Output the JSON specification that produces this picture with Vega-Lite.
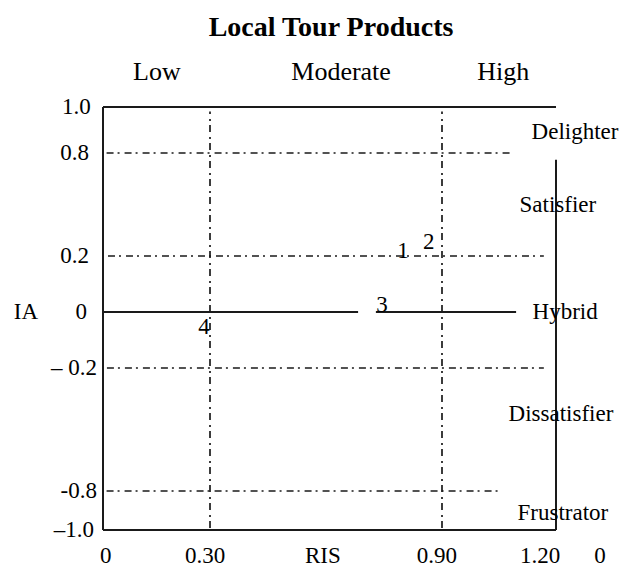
{
  "$schema": "https://vega.github.io/schema/vega-lite/v6.json",
  "width": 619,
  "height": 571,
  "padding": 0,
  "autosize": {"type": "none"},
  "background": "white",
  "config": {"view": {"stroke": null}, "text": {"font": "Liberation Serif", "color": "#000000"}},
  "datasets": {
    "lines": [
      {"x1": 0, "x2": 1.2, "y1": 1, "y2": 1, "style": "solid"},
      {"x1": 0, "x2": 1.2, "y1": -1, "y2": -1, "style": "solid"},
      {"x1": 0, "x2": 0, "y1": -1, "y2": 1, "style": "solid"},
      {"x1": 1.2, "x2": 1.2, "y1": -1, "y2": 0.76, "style": "solid"},
      {"x1": 0, "x2": 0.683, "y1": 0, "y2": 0, "style": "solid"},
      {"x1": 0.729, "x2": 1.095, "y1": 0, "y2": 0, "style": "solid"},
      {"x1": 0.01, "x2": 1.079, "y1": 0.8, "y2": 0.8, "style": "dashdot"},
      {"x1": 0.014, "x2": 1.168, "y1": 0.2, "y2": 0.2, "style": "dashdot"},
      {"x1": 0.011, "x2": 1.168, "y1": -0.2, "y2": -0.2, "style": "dashdot"},
      {"x1": 0.01, "x2": 1.058, "y1": -0.8, "y2": -0.8, "style": "dashdot"},
      {"x1": 0.3, "x2": 0.3, "y1": -0.99, "y2": 0.98, "style": "dashdot"},
      {"x1": 0.9, "x2": 0.9, "y1": -0.99, "y2": 0.98, "style": "dashdot"}
    ],
    "labels": [
      {"text": "Local Tour Products", "x": 0.613, "y": 1.343, "kind": "title"},
      {"text": "Low", "x": 0.151, "y": 1.152, "kind": "header"},
      {"text": "Moderate", "x": 0.639, "y": 1.152, "kind": "header"},
      {"text": "High", "x": 1.061, "y": 1.152, "kind": "header"},
      {"text": "0", "x": 0.008, "y": -1.133, "kind": "tick"},
      {"text": "0.30", "x": 0.286, "y": -1.133, "kind": "tick"},
      {"text": "RIS", "x": 0.592, "y": -1.133, "kind": "tick"},
      {"text": "0.90", "x": 0.887, "y": -1.133, "kind": "tick"},
      {"text": "1.20", "x": 1.158, "y": -1.133, "kind": "tick"},
      {"text": "0", "x": 1.316, "y": -1.133, "kind": "tick"},
      {"text": "IA", "x": -0.216, "y": 0, "kind": "tick"},
      {"text": "Delighter", "x": 1.25, "y": 0.891, "kind": "category"},
      {"text": "Satisfier", "x": 1.205, "y": 0.497, "kind": "category"},
      {"text": "Hybrid", "x": 1.224, "y": 0, "kind": "category"},
      {"text": "Dissatisfier", "x": 1.213, "y": -0.424, "kind": "category"},
      {"text": "Frustrator", "x": 1.218, "y": -0.913, "kind": "category"},
      {"text": "1", "x": 0.799, "y": 0.229, "kind": "point"},
      {"text": "2", "x": 0.866, "y": 0.282, "kind": "point"},
      {"text": "3", "x": 0.745, "y": 0.025, "kind": "point"},
      {"text": "4", "x": 0.283, "y": -0.054, "kind": "point"},
      {"text": "1.0", "x": -0.034, "y": 1, "kind": "ylabel"},
      {"text": "0.8", "x": -0.039, "y": 0.8, "kind": "ylabel"},
      {"text": "0.2", "x": -0.039, "y": 0.2, "kind": "ylabel"},
      {"text": "0", "x": -0.045, "y": 0, "kind": "ylabel"},
      {"text": "– 0.2", "x": -0.017, "y": -0.2, "kind": "ylabel"},
      {"text": "-0.8", "x": -0.017, "y": -0.8, "kind": "ylabel"},
      {"text": "–1.0", "x": -0.025, "y": -1, "kind": "ylabel"}
    ]
  },
  "layer": [
    {
      "data": {"name": "lines"},
      "mark": {"type": "rule", "color": "#1a1a1a"},
      "encoding": {
        "x": {"field": "x1", "type": "quantitative", "axis": null, "scale": {"type": "linear", "domain": [0, 0.3, 0.9, 1.2], "range": [103, 210, 442, 556], "zero": false, "nice": false}},
        "x2": {"field": "x2"},
        "y": {"field": "y1", "type": "quantitative", "axis": null, "scale": {"type": "linear", "domain": [-1, -0.8, -0.2, 0, 0.2, 0.8, 1], "range": [530, 491, 368, 312, 256, 153, 107], "zero": false, "nice": false}},
        "y2": {"field": "y2"},
        "strokeDash": {"field": "style", "type": "nominal", "legend": null, "scale": {"domain": ["solid", "dashdot"], "range": [[1, 0], [7, 4, 2, 5]]}},
        "strokeWidth": {"field": "style", "type": "nominal", "legend": null, "scale": {"domain": ["solid", "dashdot"], "range": [2, 1.7]}}
      }
    },
    {
      "data": {"name": "labels"},
      "transform": [{"filter": "datum.kind === 'title'"}],
      "mark": {"type": "text", "fontSize": 28, "fontWeight": "bold", "align": "center", "baseline": "middle"},
      "encoding": {
        "x": {"field": "x", "type": "quantitative"},
        "y": {"field": "y", "type": "quantitative"},
        "text": {"field": "text"}
      }
    },
    {
      "data": {"name": "labels"},
      "transform": [{"filter": "datum.kind === 'header'"}],
      "mark": {"type": "text", "fontSize": 26, "align": "center", "baseline": "middle"},
      "encoding": {
        "x": {"field": "x", "type": "quantitative"},
        "y": {"field": "y", "type": "quantitative"},
        "text": {"field": "text"}
      }
    },
    {
      "data": {"name": "labels"},
      "transform": [{"filter": "datum.kind === 'tick' || datum.kind === 'category' || datum.kind === 'point'"}],
      "mark": {"type": "text", "fontSize": 23, "align": "center", "baseline": "middle"},
      "encoding": {
        "x": {"field": "x", "type": "quantitative"},
        "y": {"field": "y", "type": "quantitative"},
        "text": {"field": "text"}
      }
    },
    {
      "data": {"name": "labels"},
      "transform": [{"filter": "datum.kind === 'ylabel'"}],
      "mark": {"type": "text", "fontSize": 23, "align": "right", "baseline": "middle"},
      "encoding": {
        "x": {"field": "x", "type": "quantitative"},
        "y": {"field": "y", "type": "quantitative"},
        "text": {"field": "text"}
      }
    }
  ]
}
